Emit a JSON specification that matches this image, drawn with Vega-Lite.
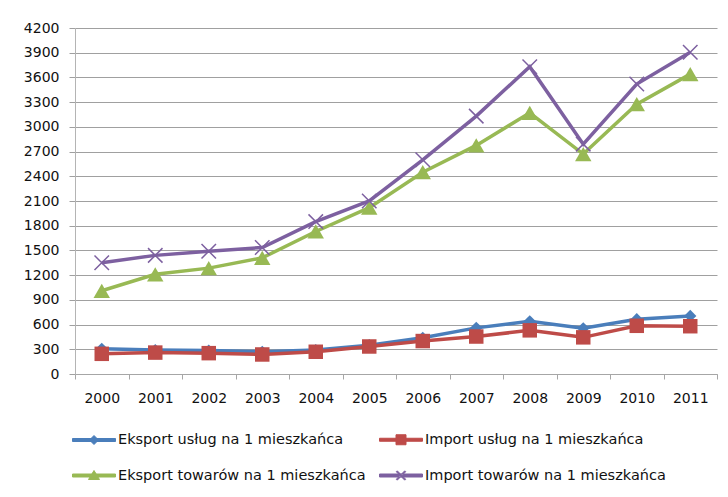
{
  "$schema": "https://vega.github.io/schema/vega-lite/v6.json",
  "width": 642,
  "height": 346,
  "autosize": "none",
  "padding": {"left": 75, "top": 28, "right": 11, "bottom": 123},
  "background": "white",
  "config": {"view": {"stroke": null}, "font": "DejaVu Sans"},
  "data": {"values": [
    {"rok": "2000", "seria": "Eksport usług na 1 mieszkańca", "v": 305},
    {"rok": "2001", "seria": "Eksport usług na 1 mieszkańca", "v": 290},
    {"rok": "2002", "seria": "Eksport usług na 1 mieszkańca", "v": 285},
    {"rok": "2003", "seria": "Eksport usług na 1 mieszkańca", "v": 270},
    {"rok": "2004", "seria": "Eksport usług na 1 mieszkańca", "v": 290},
    {"rok": "2005", "seria": "Eksport usług na 1 mieszkańca", "v": 350},
    {"rok": "2006", "seria": "Eksport usług na 1 mieszkańca", "v": 440},
    {"rok": "2007", "seria": "Eksport usług na 1 mieszkańca", "v": 560},
    {"rok": "2008", "seria": "Eksport usług na 1 mieszkańca", "v": 640},
    {"rok": "2009", "seria": "Eksport usług na 1 mieszkańca", "v": 555},
    {"rok": "2010", "seria": "Eksport usług na 1 mieszkańca", "v": 665},
    {"rok": "2011", "seria": "Eksport usług na 1 mieszkańca", "v": 705},
    {"rok": "2000", "seria": "Import usług na 1 mieszkańca", "v": 245},
    {"rok": "2001", "seria": "Import usług na 1 mieszkańca", "v": 260},
    {"rok": "2002", "seria": "Import usług na 1 mieszkańca", "v": 253},
    {"rok": "2003", "seria": "Import usług na 1 mieszkańca", "v": 237},
    {"rok": "2004", "seria": "Import usług na 1 mieszkańca", "v": 270},
    {"rok": "2005", "seria": "Import usług na 1 mieszkańca", "v": 334},
    {"rok": "2006", "seria": "Import usług na 1 mieszkańca", "v": 400},
    {"rok": "2007", "seria": "Import usług na 1 mieszkańca", "v": 455},
    {"rok": "2008", "seria": "Import usług na 1 mieszkańca", "v": 530},
    {"rok": "2009", "seria": "Import usług na 1 mieszkańca", "v": 445},
    {"rok": "2010", "seria": "Import usług na 1 mieszkańca", "v": 585},
    {"rok": "2011", "seria": "Import usług na 1 mieszkańca", "v": 580},
    {"rok": "2000", "seria": "Eksport towarów na 1 mieszkańca", "v": 1010},
    {"rok": "2001", "seria": "Eksport towarów na 1 mieszkańca", "v": 1210},
    {"rok": "2002", "seria": "Eksport towarów na 1 mieszkańca", "v": 1285},
    {"rok": "2003", "seria": "Eksport towarów na 1 mieszkańca", "v": 1410},
    {"rok": "2004", "seria": "Eksport towarów na 1 mieszkańca", "v": 1730},
    {"rok": "2005", "seria": "Eksport towarów na 1 mieszkańca", "v": 2020},
    {"rok": "2006", "seria": "Eksport towarów na 1 mieszkańca", "v": 2450},
    {"rok": "2007", "seria": "Eksport towarów na 1 mieszkańca", "v": 2775},
    {"rok": "2008", "seria": "Eksport towarów na 1 mieszkańca", "v": 3170},
    {"rok": "2009", "seria": "Eksport towarów na 1 mieszkańca", "v": 2670},
    {"rok": "2010", "seria": "Eksport towarów na 1 mieszkańca", "v": 3275},
    {"rok": "2011", "seria": "Eksport towarów na 1 mieszkańca", "v": 3640},
    {"rok": "2000", "seria": "Import towarów na 1 mieszkańca", "v": 1350},
    {"rok": "2001", "seria": "Import towarów na 1 mieszkańca", "v": 1440},
    {"rok": "2002", "seria": "Import towarów na 1 mieszkańca", "v": 1490},
    {"rok": "2003", "seria": "Import towarów na 1 mieszkańca", "v": 1535},
    {"rok": "2004", "seria": "Import towarów na 1 mieszkańca", "v": 1850},
    {"rok": "2005", "seria": "Import towarów na 1 mieszkańca", "v": 2100},
    {"rok": "2006", "seria": "Import towarów na 1 mieszkańca", "v": 2600},
    {"rok": "2007", "seria": "Import towarów na 1 mieszkańca", "v": 3130},
    {"rok": "2008", "seria": "Import towarów na 1 mieszkańca", "v": 3730},
    {"rok": "2009", "seria": "Import towarów na 1 mieszkańca", "v": 2790},
    {"rok": "2010", "seria": "Import towarów na 1 mieszkańca", "v": 3520},
    {"rok": "2011", "seria": "Import towarów na 1 mieszkańca", "v": 3905}
  ]},
  "encoding": {
    "x": {"field": "rok", "type": "ordinal", "scale": {"paddingInner": 0, "paddingOuter": 0},
      "axis": {"title": null, "labelAngle": 0, "tickBand": "extent", "tickSize": 5, "labelPadding": 12, "domainColor": "#a6a6a6", "tickColor": "#a6a6a6", "labelFontSize": 14, "labelColor": "#111111", "grid": false}},
    "y": {"field": "v", "type": "quantitative", "scale": {"domain": [0, 4200], "nice": false},
      "axis": {"title": null, "format": "d", "values": [0, 300, 600, 900, 1200, 1500, 1800, 2100, 2400, 2700, 3000, 3300, 3600, 3900, 4200], "tickSize": 6, "labelPadding": 10, "domainColor": "#b4b4b4", "tickColor": "#a0a0a0", "gridColor": "#a0a0a0", "gridOpacity": 1, "labelFontSize": 14, "labelColor": "#111111"}}
  },
  "layer": [
    {"mark": {"type": "line", "strokeWidth": 3.5},
      "encoding": {"color": {"field": "seria", "type": "nominal",
        "scale": {"domain": ["Eksport usług na 1 mieszkańca", "Import usług na 1 mieszkańca", "Eksport towarów na 1 mieszkańca", "Import towarów na 1 mieszkańca"], "range": ["#4a7ebb", "#be4b48", "#98b954", "#7d60a0"]},
        "legend": {"title": null, "orient": "none", "legendX": -3, "legendY": 401, "columns": 2, "direction": "horizontal", "symbolSize": 400, "labelFontSize": 14.5, "labelColor": "#111111", "labelLimit": 400, "labelOffset": 25, "columnPadding": 11, "rowPadding": 18, "padding": 0,
          "encode": {"symbols": {"update": {
            "shape": {"signal": "['M-1,-0.15H3.3V0.15H-1Z M1.15,-0.45L1.6,0L1.15,0.45L0.7,0Z', 'M-1,-0.15H3.3V0.15H-1Z M0.65,-0.5H1.65V0.5H0.65Z', 'M-1,-0.15H3.3V0.15H-1Z M1.15,-0.5L1.7,0.4H0.6Z', 'M-1,-0.15H3.3V0.15H-1Z M0.776,-0.466L1.616,0.374L1.524,0.466L0.684,-0.374Z M0.776,0.466L1.616,-0.374L1.524,-0.466L0.684,0.374Z'][datum.index]"},
            "fill": {"scale": "color", "field": "value"},
            "stroke": {"scale": "color", "field": "value"},
            "strokeWidth": {"value": 1},
            "opacity": {"value": 1},
            "size": {"value": 400}
          }}}}}}},
    {"transform": [{"filter": "datum.seria === 'Eksport usług na 1 mieszkańca'"}],
      "mark": {"type": "point", "shape": "diamond", "size": 150, "filled": true, "color": "#4a7ebb", "opacity": 1}},
    {"transform": [{"filter": "datum.seria === 'Import usług na 1 mieszkańca'"}],
      "mark": {"type": "point", "shape": "square", "size": 210, "filled": true, "color": "#be4b48", "opacity": 1}},
    {"transform": [{"filter": "datum.seria === 'Eksport towarów na 1 mieszkańca'"}],
      "mark": {"type": "point", "shape": "triangle-up", "size": 270, "filled": true, "color": "#98b954", "opacity": 1}},
    {"transform": [{"filter": "datum.seria === 'Import towarów na 1 mieszkańca'"}],
      "mark": {"type": "point", "shape": "M-1,-1L1,1M-1,1L1,-1", "size": 210, "filled": false, "color": "#7d60a0", "strokeWidth": 1.5, "opacity": 1}}
  ]
}
